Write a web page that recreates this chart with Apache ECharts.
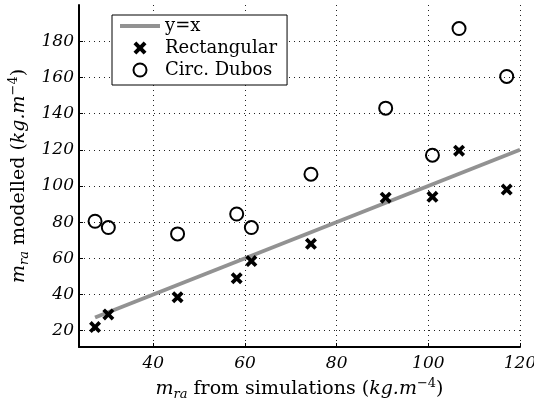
<!DOCTYPE html>
<html>
<head>
<meta charset="utf-8">
<script src="https://cdn.jsdelivr.net/npm/echarts@6/dist/echarts.min.js"></script>
<style>
  html, body { margin: 0; padding: 0; background: #fff; }
  #chart { width: 534px; height: 405px; }
</style>
</head>
<body>
<div id="chart"></div>
<script>
// m_ra from simulations (kg.m^-4)
const simX = [27.3, 30.2, 45.3, 58.2, 61.4, 74.4, 90.7, 100.9, 106.7, 117.1];
// modelled values, rectangular model
const rectY = [22, 29, 38.5, 49, 58.5, 68, 93.5, 94, 119.5, 98];
// modelled values, circular Dubos model
const circY = [80.5, 77, 73.5, 84.5, 77, 106.5, 143, 117, 187, 160.5];
// reference line y = x
const lineX = [27.3, 120];

const xTicks = [40, 60, 80, 100, 120];
const yTicks = [20, 40, 60, 80, 100, 120, 140, 160, 180];

const SERIF = 'DejaVu Serif';
const crossPath = 'path://M0,2.2 L2.2,0 L5,2.8 L7.8,0 L10,2.2 L7.2,5 L10,7.8 L7.8,10 L5,7.2 L2.2,10 L0,7.8 L2.8,5 Z';
const barIcon = 'path://M0,0 H40 V4 H0 Z';

const nameRich = {
  n: { fontFamily: SERIF, fontSize: 19, color: '#000', lineHeight: 24 },
  m: { fontFamily: SERIF, fontSize: 19, fontStyle: 'italic', color: '#000', lineHeight: 24 },
  s: { fontFamily: SERIF, fontSize: 13, fontStyle: 'italic', color: '#000', lineHeight: 14, verticalAlign: 'bottom' },
  p: { fontFamily: SERIF, fontSize: 13, color: '#000', lineHeight: 14, verticalAlign: 'top' }
};

const tickLabel = { fontFamily: SERIF, fontStyle: 'italic', fontSize: 17, color: '#000' };
const gridLine = { show: true, lineStyle: { color: '#222', width: 1, type: [1, 4] } };

const chart = echarts.init(document.getElementById('chart'), null, { renderer: 'canvas' });

chart.setOption({
  animation: false,
  backgroundColor: '#fff',
  grid: { left: 79, right: 14, top: 5, bottom: 58, containLabel: false, outerBoundsMode: 'none' },
  legend: {
    left: 112,
    top: 15,
    orient: 'vertical',
    backgroundColor: '#fff',
    borderColor: '#000',
    borderWidth: 1,
    borderRadius: 0,
    padding: [2, 10, 6, 8],
    itemGap: 4,
    itemWidth: 40,
    itemHeight: 13,
    textStyle: { fontFamily: SERIF, fontSize: 18, color: '#000' },
    data: [
      { name: 'y=x', icon: barIcon },
      { name: 'Rectangular' },
      { name: 'Circ. Dubos' }
    ]
  },
  xAxis: {
    type: 'value',
    min: 23.8,
    max: 120,
    name: '{m|m}{s|ra}{n| from simulations (}{m|kg.m}{p|−4}{n|)}',
    nameLocation: 'middle',
    nameGap: 27,
    nameTextStyle: { rich: nameRich },
    axisLine: { show: true, onZero: false, lineStyle: { color: '#000', width: 2 } },
    axisTick: { show: true, inside: true, length: 4, customValues: xTicks, lineStyle: { color: '#000', width: 1 } },
    axisLabel: Object.assign({ customValues: xTicks, margin: 8 }, tickLabel),
    splitLine: gridLine
  },
  yAxis: {
    type: 'value',
    min: 11,
    max: 200,
    name: '{m|m}{s|ra}{n| modelled (}{m|kg.m}{p|−4}{n|)}',
    nameLocation: 'middle',
    nameGap: 43,
    nameTextStyle: { rich: nameRich },
    axisLine: { show: true, onZero: false, lineStyle: { color: '#000', width: 2 } },
    axisTick: { show: true, inside: true, length: 4, customValues: yTicks, lineStyle: { color: '#000', width: 1 } },
    axisLabel: Object.assign({ customValues: yTicks, margin: 5 }, tickLabel),
    splitLine: gridLine
  },
  series: [
    {
      name: 'y=x',
      type: 'line',
      data: lineX.map(v => [v, v]),
      symbol: 'none',
      showSymbol: false,
      lineStyle: { color: '#929292', width: 4 },
      itemStyle: { color: '#929292' },
      z: 2
    },
    {
      name: 'Rectangular',
      type: 'scatter',
      data: simX.map((x, i) => [x, rectY[i]]),
      symbol: crossPath,
      symbolSize: 12,
      symbolKeepAspect: true,
      itemStyle: { color: '#000', opacity: 1 },
      z: 3
    },
    {
      name: 'Circ. Dubos',
      type: 'scatter',
      data: simX.map((x, i) => [x, circY[i]]),
      symbol: 'circle',
      symbolSize: 13,
      itemStyle: { color: 'rgba(255,255,255,0)', borderColor: '#000', borderWidth: 2, opacity: 1 },
      z: 3
    }
  ]
});
</script>
</body>
</html>
